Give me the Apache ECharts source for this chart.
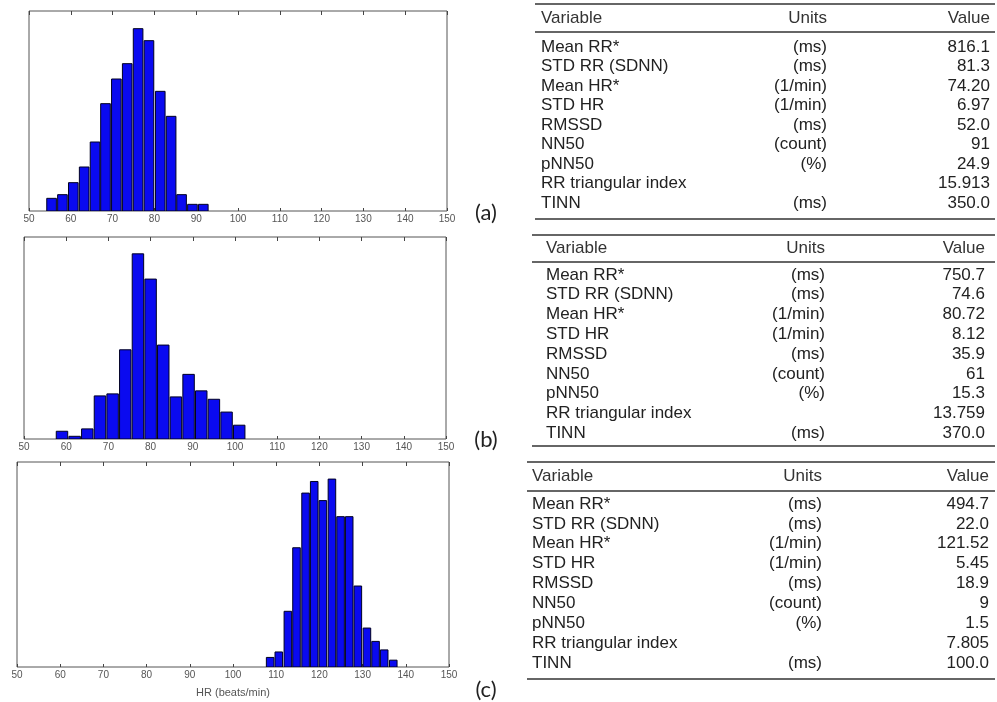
<!DOCTYPE html>
<html>
<head>
<meta charset="utf-8">
<script src="https://cdn.jsdelivr.net/npm/echarts@6/dist/echarts.min.js"></script>
<style>
  html, body { margin: 0; padding: 0; background: #fff; }
  #chart { width: 997px; height: 702px; }
</style>
</head>
<body>
<div id="chart"></div>
<script>
// histogram data (bin centre in beats/min, bar height)
const binCentersA = [55.4, 58.0, 60.6, 63.2, 65.8, 68.3, 70.9, 73.5, 76.1, 78.7, 81.4, 84.0, 86.5, 89.1, 91.7];
const countsA = [3.8, 4.9, 8.5, 13.2, 20.7, 32.2, 39.6, 44.2, 54.7, 51.1, 35.9, 28.4, 4.9, 2.0, 2.0];
const binCentersB = [59, 62, 65, 68, 71, 74, 77, 80, 83, 86, 89, 92, 95, 98, 101];
const countsB = [2.3, 0.8, 3.0, 12.8, 13.4, 26.5, 55.0, 47.5, 27.9, 12.5, 19.2, 14.3, 11.8, 8.0, 4.1];
const binCentersC = [108.6, 110.6, 112.7, 114.7, 116.8, 118.8, 120.8, 122.9, 124.9, 126.9, 128.9, 131.0, 133.0, 135.0, 137.1];
const countsC = [2.8, 4.4, 16.3, 34.9, 50.9, 54.3, 48.7, 55.0, 44.0, 44.0, 23.7, 11.4, 7.5, 5.0, 2.0];
const binWidths = [2.59, 3.0, 2.03];
const panelLabels = ['(a)', '(b)', '(c)'];

// tables
const variables = ['Mean RR*', 'STD RR (SDNN)', 'Mean HR*', 'STD HR', 'RMSSD', 'NN50', 'pNN50', 'RR triangular index', 'TINN'];
const units = ['(ms)', '(ms)', '(1/min)', '(1/min)', '(ms)', '(count)', '(%)', '', '(ms)'];
const valuesA = ['816.1', '81.3', '74.20', '6.97', '52.0', '91', '24.9', '15.913', '350.0'];
const valuesB = ['750.7', '74.6', '80.72', '8.12', '35.9', '61', '15.3', '13.759', '370.0'];
const valuesC = ['494.7', '22.0', '121.52', '5.45', '18.9', '9', '1.5', '7.805', '100.0'];

const chart = echarts.init(document.getElementById('chart'), null, { renderer: 'canvas' });

const grids = [
    { left: 29, top: 11, width: 418, height: 200 },
    { left: 24, top: 237, width: 422, height: 202 },
    { left: 17, top: 462, width: 432, height: 205 }
];
const hists = [
    [binCentersA, countsA],
    [binCentersB, countsB],
    [binCentersC, countsC]
];

const xAxes = [];
const yAxes = [];
const series = [];
grids.forEach((g, i) => {
    // bottom axis with labels
    xAxes.push({
        type: 'value', gridIndex: i, min: 50, max: 150, interval: 10,
        position: 'bottom',
        axisLine: { show: false },
        axisTick: { show: true, inside: true, length: 3, lineStyle: { color: '#444' } },
        axisLabel: { color: '#555', fontSize: 10, margin: 3, fontFamily: 'Liberation Sans', showMinLabel: true, showMaxLabel: true },
        splitLine: { show: false },
        name: i === 2 ? 'HR (beats/min)' : '',
        nameLocation: 'middle', nameGap: 20,
        nameTextStyle: { color: '#555', fontSize: 11, fontFamily: 'Liberation Sans' }
    });
    // top axis, ticks only
    xAxes.push({
        type: 'value', gridIndex: i, min: 50, max: 150, interval: 10,
        position: 'top',
        axisLine: { show: false },
        axisTick: { show: true, inside: true, length: 4, lineStyle: { color: '#444' } },
        axisLabel: { show: false },
        splitLine: { show: false }
    });
    yAxes.push({
        type: 'value', gridIndex: i, min: 0, max: 60,
        axisLine: { show: false }, axisTick: { show: false },
        axisLabel: { show: false }, splitLine: { show: false }
    });
    const w = binWidths[i];
    series.push({
        type: 'custom',
        xAxisIndex: i * 2,
        yAxisIndex: i,
        clip: true,
        data: hists[i][0].map((c, k) => [c, hists[i][1][k]]),
        renderItem: (params, api) => {
            const c = api.value(0);
            const h = api.value(1);
            const p0 = api.coord([c - w / 2, h]);
            const p1 = api.coord([c + w / 2, 0]);
            return {
                type: 'rect',
                shape: { x: p0[0] + 0.6, y: p0[1], width: p1[0] - p0[0] - 1.2, height: p1[1] - p0[1] },
                style: { fill: '#0a0af0', stroke: '#000022', lineWidth: 1 }
            };
        }
    });
});

// table drawing
const tables = [
    { values: valuesA, x0: 535, x1: 995, top: 4, head: 18, headRule: 32, row0: 47, step: 19.5, bottom: 219, varX: 541, unitX: 827, valX: 990 },
    { values: valuesB, x0: 532, x1: 995, top: 235, head: 248, headRule: 262, row0: 275, step: 19.8, bottom: 446, varX: 546, unitX: 825, valX: 985 },
    { values: valuesC, x0: 527, x1: 995, top: 462, head: 476, headRule: 491, row0: 504, step: 19.9, bottom: 679, varX: 532, unitX: 822, valX: 989 }
];
const font = '17px "Liberation Sans", Arial, sans-serif';
const graphics = [];
function txt(s, x, y, align, color) {
    graphics.push({
        type: 'text', silent: true,
        style: { text: s, x: x, y: y, font: font, fill: color || '#222', textAlign: align, textVerticalAlign: 'middle' }
    });
}
function rule(x0, x1, y) {
    graphics.push({
        type: 'line', silent: true,
        shape: { x1: x0, y1: y, x2: x1, y2: y },
        style: { stroke: '#666', lineWidth: 2 }
    });
}
tables.forEach(t => {
    rule(t.x0, t.x1, t.top);
    rule(t.x0, t.x1, t.headRule);
    rule(t.x0, t.x1, t.bottom);
    txt('Variable', t.varX, t.head, 'left', '#333');
    txt('Units', t.unitX, t.head, 'right', '#333');
    txt('Value', t.valX, t.head, 'right', '#333');
    variables.forEach((v, k) => {
        const y = t.row0 + k * t.step;
        txt(v, t.varX, y, 'left');
        if (units[k]) txt(units[k], t.unitX, y, 'right');
        txt(t.values[k], t.valX, y, 'right');
    });
});
// panel letters
[213, 440, 690].forEach((y, i) => {
    graphics.push({
        type: 'text', silent: true,
        style: { text: panelLabels[i], x: 486, y: y, font: '22px Lato, sans-serif', fill: '#222', textAlign: 'center', textVerticalAlign: 'middle' }
    });
});

chart.setOption({
    animation: false,
    grid: grids.map(g => Object.assign({ show: true, borderColor: '#555', borderWidth: 1, backgroundColor: 'transparent' }, g)),
    xAxis: xAxes,
    yAxis: yAxes,
    series: series,
    graphic: graphics
});
</script>
</body>
</html>
